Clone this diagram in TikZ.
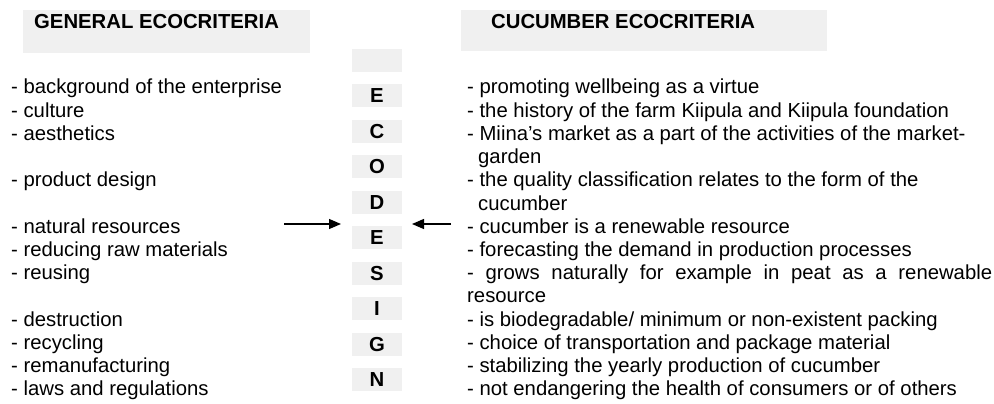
\documentclass[tikz,border=0pt]{standalone}
\usepackage{fontspec}
\setmainfont{Liberation Sans}
\usetikzlibrary{arrows.meta}
\definecolor{boxgrey}{RGB}{240,240,240}

\begin{document}
\begin{tikzpicture}[x=1pt,y=-1pt,>={Triangle[length=12pt,width=10pt]},
  hdrbox/.style={fill=boxgrey,inner sep=0pt,anchor=north west},
  ltrbox/.style={fill=boxgrey,inner sep=0pt,minimum width=50pt,minimum height=23pt,font=\bfseries},
  line/.style={anchor=base west,inner sep=0pt}]
\useasboundingbox (0,0) rectangle (994,404);
\fontsize{20.3}{23.2}\selectfont
% column headers
\node[hdrbox,minimum width=287pt,minimum height=43pt] (genbox) at (23,9.5) {};
\node[hdrbox,minimum width=366pt,minimum height=41pt] (cucbox) at (461,9.5) {};
\node[line,font=\bfseries] (gentitle) at (34,29) {GENERAL ECOCRITERIA};
\node[line,font=\bfseries] (cuctitle) at (491,29) {CUCUMBER ECOCRITERIA};
% ECODESIGN column
\node[ltrbox] (ltr0) at (377,60.5) {};
\foreach \c [count=\k] in {E,C,O,D,E,S,I,G,N}
  \node[ltrbox] (ltr\k) at (377,60.5+35.44*\k) {\c};
% general criteria, one line per row
\foreach \k/\t in {0/- background of the enterprise,1/- culture,2/- aesthetics,
    4/- product design,6/- natural resources,7/- reducing raw materials,8/- reusing,
    10/- destruction,11/- recycling,12/- remanufacturing,13/- laws and regulations}
  \node[line] (gen\k) at (11,94+23.2*\k) {\t};
% cucumber criteria
\foreach \k/\t in {0/- promoting wellbeing as a virtue,
    1/- the history of the farm Kiipula and Kiipula foundation,
    2/- Miina’s market as a part of the activities of the market-,
    3/{\hspace*{11pt}garden},
    4/- the quality classification relates to the form of the,
    5/{\hspace*{11pt}cucumber},
    6/- cucumber is a renewable resource,
    7/- forecasting the demand in production processes,
    8/{\makebox[525pt][s]{- grows naturally for example in peat as a renewable}},
    9/resource,
    10/{- is biodegradable/ minimum or non-existent packing},
    11/- choice of transportation and package material,
    12/- stabilizing the yearly production of cucumber,
    13/- not endangering the health of consumers or of others}
  \node[line] (cuc\k) at (467,94+23.2*\k) {\t};
% arrows into the column
\coordinate (genfrom) at (284,224);
\coordinate (gento) at (341,224);
\coordinate (cucfrom) at (451,224);
\coordinate (cucto) at (412,224);
\draw[->,line width=1.3pt] (genfrom) -- (gento);
\draw[->,line width=1.3pt] (cucfrom) -- (cucto);
\end{tikzpicture}
\end{document}
